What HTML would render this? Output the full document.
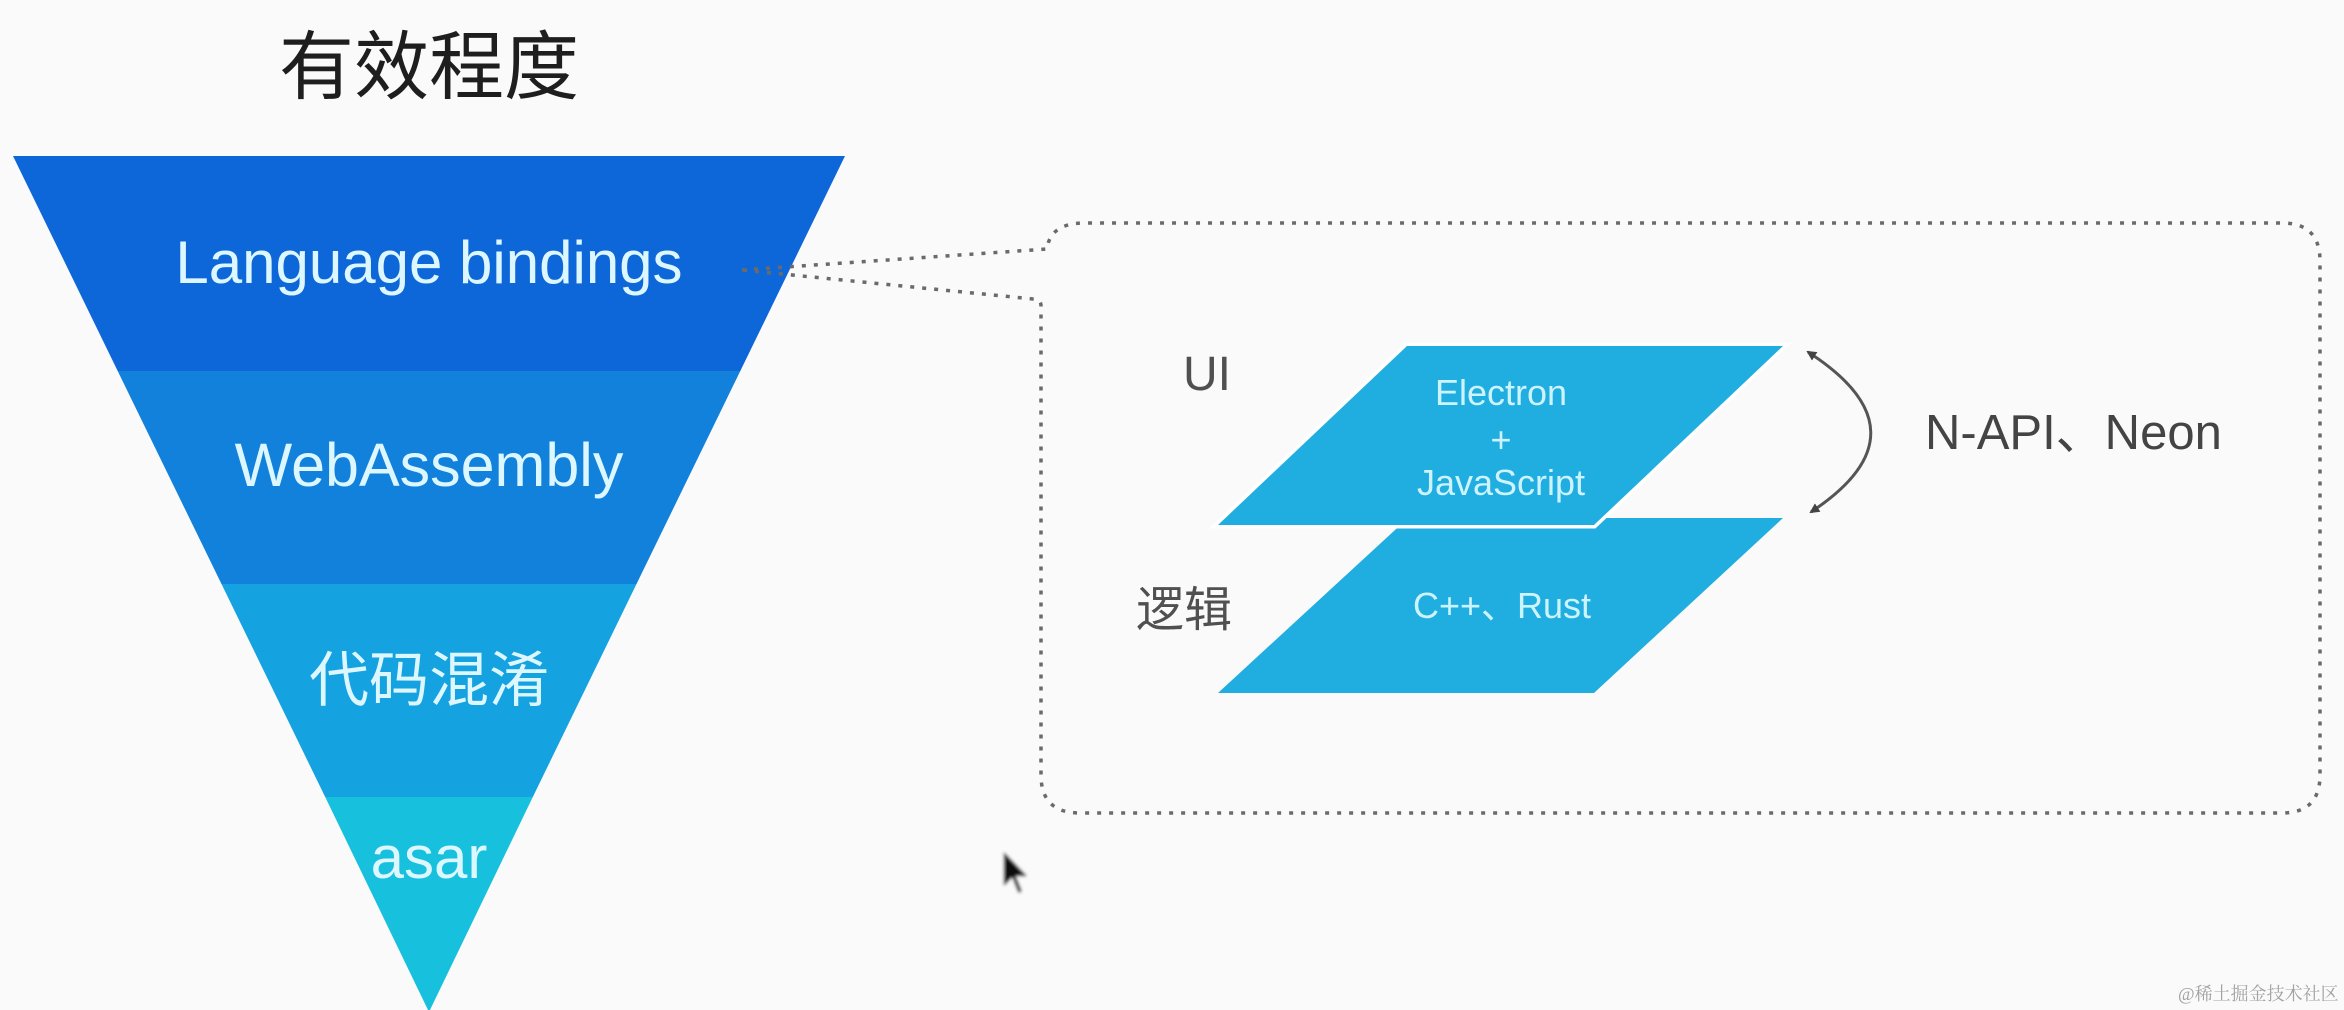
<!DOCTYPE html>
<html>
<head>
<meta charset="utf-8">
<style>
  html, body { margin: 0; padding: 0; background: #fafafa; }
  body { width: 2344px; height: 1010px; overflow: hidden; }
  svg { display: block; }
  .lat { font-family: "Liberation Sans", "Noto Sans CJK SC", sans-serif; }
  .cjk { font-family: "Liberation Sans", "Noto Sans CJK SC", sans-serif; }
</style>
</head>
<body>
<svg width="2344" height="1010" viewBox="0 0 2344 1010" xmlns="http://www.w3.org/2000/svg">
  <defs>
    <filter id="blur" x="-50%" y="-50%" width="200%" height="200%">
      <feGaussianBlur stdDeviation="1.6"/>
    </filter>
    <marker id="ah" markerWidth="10" markerHeight="10" refX="8" refY="5" orient="auto-start-reverse" markerUnits="userSpaceOnUse">
      <path d="M0,0 L10,5 L0,10 z" fill="#444"/>
    </marker>
  </defs>

  <rect x="0" y="0" width="2344" height="1010" fill="#fafafa"/>

  <!-- Title -->
  <text x="429" y="93" text-anchor="middle" class="cjk" font-size="75" fill="#1e1e1e">有效程度</text>

  <!-- Funnel bands -->
  <polygon points="13,156 845,156 740.3,371 117.7,371" fill="#0e67d9"/>
  <polygon points="117.7,371 740.3,371 636.5,584 221.5,584" fill="#1181dc"/>
  <polygon points="221.5,584 636.5,584 532.8,797 325.2,797" fill="#15a2e0"/>
  <polygon points="325.2,797 532.8,797 429,1012" fill="#17c0dd"/>

  <!-- Funnel labels -->
  <g fill="#dcf7ff" class="lat">
    <text x="429" y="283" text-anchor="middle" font-size="60">Language bindings</text>
    <text x="429" y="486" text-anchor="middle" font-size="61">WebAssembly</text>
    <text x="429" y="701" text-anchor="middle" font-size="60" class="cjk">代码混淆</text>
    <text x="429" y="878" text-anchor="middle" font-size="60">asar</text>
  </g>

  <!-- Dotted callout -->
  <path d="M742,270 L1047,249 Q1050,223 1085,223 L2282,223 Q2320,223 2320,261 L2320,775 Q2320,813 2282,813 L1080,813 Q1041,813 1041,775 L1041,306 Q1041,299 1033,299 L742,270"
        fill="none" stroke="#6a6a6a" stroke-width="3.5" stroke-dasharray="4 8"/>

  <!-- Lower parallelogram -->
  <polygon points="1408,518 1783,518 1594,693 1218,693" fill="#20aee0"/>
  <!-- Upper parallelogram with white outline -->
  <polygon points="1407,346 1783,346 1594,525 1218,525" fill="#20aee0" stroke="#ffffff" stroke-width="7" paint-order="stroke"/>

  <!-- Parallelogram labels -->
  <g fill="#cdf3ff" class="lat" font-size="36" text-anchor="middle">
    <text x="1501" y="405">Electron</text>
    <text x="1501" y="452">+</text>
    <text x="1501" y="495">JavaScript</text>
    <text x="1502" y="618" class="cjk">C++、Rust</text>
  </g>

  <!-- Side labels -->
  <text x="1183" y="390" class="lat" font-size="48" fill="#505050">UI</text>
  <text x="1136" y="626" class="cjk" font-size="48" fill="#505050">逻辑</text>

  <!-- Curved double arrow -->
  <path d="M1808,352 Q1932,432 1811,512" fill="none" stroke="#555" stroke-width="3" marker-start="url(#ah)" marker-end="url(#ah)"/>

  <text x="1925" y="449" class="cjk" font-size="49" fill="#444">N-API、Neon</text>

  <!-- Mouse cursor -->
  <g filter="url(#blur)">
    <path d="M1003,850 L1003,888 L1012,879 L1018,894 L1023,892 L1017,877 L1029,877 Z" fill="#111" stroke="#fff" stroke-width="1.5"/>
  </g>

  <!-- Watermark -->
  <text x="2178" y="1000" font-family="'Liberation Serif', 'Noto Serif CJK SC', serif" font-size="18" fill="#a2a2a2">@稀土掘金技术社区</text>
</svg>
</body>
</html>
